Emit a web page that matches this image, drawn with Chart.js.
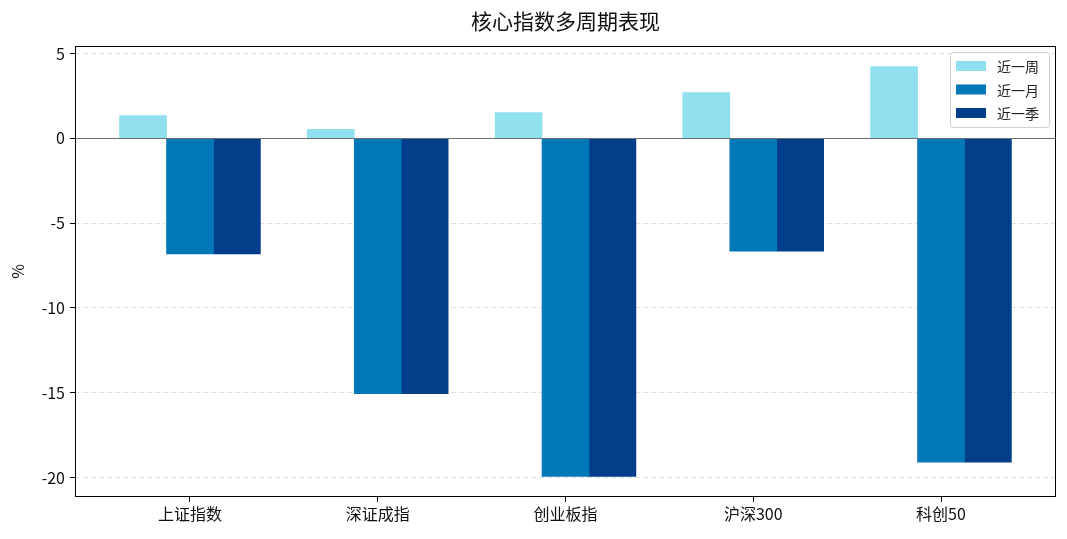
<!DOCTYPE html>
<html lang="zh">
<head>
<meta charset="UTF-8">
<title>核心指数多周期表现</title>
<script src="https://cdn.jsdelivr.net/npm/chart.js@4/dist/chart.umd.min.js"></script>
<style>
    body { margin: 0; background: #fff; }
    #wrap { width: 1067px; height: 539px; }
</style>
</head>
<body>
<div id="wrap"><canvas id="chart"></canvas></div>
<script>
const chartTitle = '核心指数多周期表现';
const categories = ['上证指数', '深证成指', '创业板指', '沪深300', '科创50'];
const weekValues = [1.35, 0.53, 1.53, 2.7, 4.24];
const monthValues = [-6.82, -15.05, -19.93, -6.65, -19.1];
const quarterValues = [-6.82, -15.05, -19.93, -6.65, -19.1];
const seriesNames = ['近一周', '近一月', '近一季'];
const seriesColors = ['#90e0ef', '#0077b6', '#023e8a'];
const yTicks = [5, 0, -5, -10, -15, -20];

const FONT = '"Noto Sans CJK SC", "Noto Sans", sans-serif';
const offsets = [-0.25, 0, 0.25];

function toPoints(vals, k) {
    return vals.map((v, i) => ({ x: i + offsets[k], y: v }));
}

const datasets = [weekValues, monthValues, quarterValues].map((vals, k) => ({
    label: seriesNames[k],
    data: toPoints(vals, k),
    backgroundColor: seriesColors[k],
    borderWidth: 0,
    grouped: false,
    barPercentage: 1,
    categoryPercentage: 1
}));

// title over the plot, frame, zero line and legend inside the plot
const extras = {
    id: 'extras',
    afterDatasetsDraw(chart) {
        const { ctx, chartArea: a, scales } = chart;
        const y0 = Math.round(scales.y.getPixelForValue(0)) + 0.5;
        ctx.save();
        ctx.strokeStyle = '#707070';
        ctx.lineWidth = 1;
        ctx.beginPath();
        ctx.moveTo(a.left, y0);
        ctx.lineTo(a.right, y0);
        ctx.stroke();

        ctx.strokeStyle = '#000';
        ctx.lineWidth = 1;
        ctx.strokeRect(a.left + 0.5, a.top + 0.5, a.right - a.left - 1, a.bottom - a.top - 1);

        ctx.fillStyle = '#111';
        ctx.font = '21px ' + FONT;
        ctx.textAlign = 'center';
        ctx.textBaseline = 'middle';
        ctx.fillText(chartTitle, (a.left + a.right) / 2, 21);

        // legend
        const bx = a.right - 106, by = a.top + 6, bw = 99, bh = 75;
        ctx.fillStyle = 'rgba(255,255,255,0.8)';
        ctx.strokeStyle = '#d0d0d0';
        ctx.beginPath();
        ctx.roundRect(bx + 0.5, by + 0.5, bw, bh, 3);
        ctx.fill();
        ctx.stroke();
        ctx.font = '14px ' + FONT;
        ctx.textAlign = 'left';
        chart.data.datasets.forEach((ds, i) => {
            const cy = by + 14 + i * 23.5;
            ctx.fillStyle = ds.backgroundColor;
            ctx.fillRect(bx + 6, cy - 5, 30, 10);
            ctx.fillStyle = '#222';
            ctx.fillText(ds.label, bx + 47, cy + 1);
        });
        ctx.restore();
    }
};

new Chart(document.getElementById('chart'), {
    type: 'bar',
    data: { datasets },
    plugins: [extras],
    options: {
        responsive: true,
        maintainAspectRatio: false,
        animation: false,
        layout: { padding: { left: 0, right: 11, top: 46, bottom: 0 } },
        plugins: {
            legend: { display: false },
            tooltip: { enabled: false },
            title: { display: false }
        },
        scales: {
            x: {
                type: 'linear',
                offset: false,
                min: -0.6125,
                max: 4.6125,
                afterBuildTicks(scale) {
                    scale.ticks = categories.map((c, i) => ({ value: i }));
                },
                afterFit(scale) { scale.height = 42; },
                ticks: {
                    color: '#111',
                    font: { family: FONT, size: 16 },
                    padding: 2,
                    autoSkip: false,
                    maxRotation: 0,
                    callback: (v) => categories[v]
                },
                grid: {
                    offset: false,
                    drawOnChartArea: false,
                    tickLength: 5,
                    tickColor: '#000'
                },
                border: { display: false }
            },
            y: {
                min: -21.15,
                max: 5.45,
                afterBuildTicks(scale) {
                    scale.ticks = yTicks.map(v => ({ value: v }));
                },
                afterFit(scale) { scale.width = 75; },
                title: {
                    display: true,
                    text: '%',
                    color: '#111',
                    font: { family: FONT, size: 16 },
                    padding: { top: 8, bottom: 0 }
                },
                ticks: {
                    color: '#111',
                    font: { family: FONT, size: 16 },
                    padding: 5
                },
                grid: {
                    color: (c) => c.tick && c.tick.value === 0 ? 'rgba(0,0,0,0)' : '#e0e0e0',
                    tickBorderDash: [],
                    tickLength: 5,
                    tickColor: '#000'
                },
                border: { display: false, dash: [5, 3] }
            }
        }
    }
});
</script>
</body>
</html>
